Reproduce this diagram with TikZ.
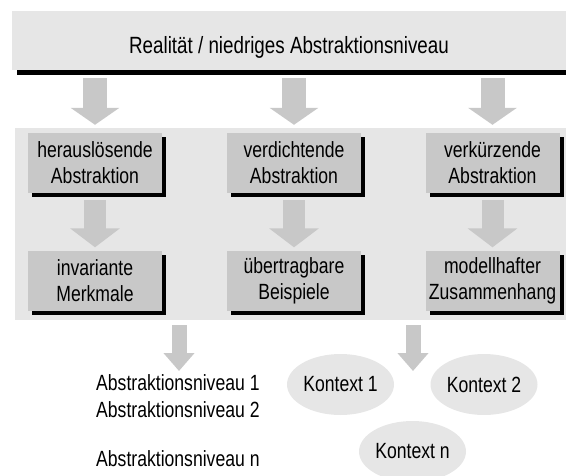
\documentclass[tikz,border=0pt]{standalone}
\usepackage{fontspec}
\setmainfont[FakeStretch=0.8]{Liberation Sans}
\usepackage{tikz}
\usetikzlibrary{shapes, arrows.meta, positioning, calc, shadows}

\definecolor{panelgray}{RGB}{230,230,230}
\definecolor{boxgray}{RGB}{200,200,200}
\newcommand{\lblfont}{\fontsize{22}{26}\selectfont}

\begin{document}
\begin{tikzpicture}[x=1pt, y=-1pt,
  box/.style={fill=boxgray, minimum width=134pt, minimum height=60pt, inner sep=0pt, align=center, font=\lblfont,
    drop shadow={shadow xshift=4pt, shadow yshift=-4pt, fill=black, opacity=1}},
  ctx/.style={ellipse, fill=panelgray, minimum width=107pt, minimum height=61pt, inner sep=0pt, font=\lblfont},
  level/.style={anchor=west, inner sep=0pt, font=\lblfont},
  bigarrow/.style={draw=boxgray, line width=24pt, -{Triangle[width=48pt, length=17pt]}},
  midarrow/.style={draw=boxgray, line width=22pt, -{Triangle[width=49pt, length=19pt]}},
  smallarrow/.style={draw=boxgray, line width=15pt, -{Triangle[width=30pt, length=18pt]}}
]
  \useasboundingbox (0,0) rectangle (566,475);
  \clip (0,0) rectangle (566,475);

  % top level and panel
  \node[fill=panelgray, minimum width=554pt, minimum height=59pt, inner sep=0pt, text height=25.8pt, text depth=0pt,
    font=\fontsize{23.5}{28}\selectfont,
    drop shadow={shadow xshift=5pt, shadow yshift=-5pt, fill=black, opacity=1}] (real) at (289, 40.5) {Realität / niedriges Abstraktionsniveau};
  \node[fill=panelgray, minimum width=560pt, minimum height=192pt, inner sep=0pt] (panel) at (295, 224) {};

  \node[box] (heraus) at (95, 163) {herauslösende\\Abstraktion};
  \node[box] (verdicht) at (294, 163) {verdichtende\\Abstraktion};
  \node[box] (verkurz) at (492.5, 163) {verkürzende\\Abstraktion};
  \node[box] (invar) at (95, 280.5) {invariante\\Merkmale};
  \node[box] (uebertr) at (294, 280.5) {übertragbare\\Beispiele};
  \node[box] (modell) at (492.5, 280.5) {modellhafter\\Zusammenhang};

  % arrows down
  \foreach \n in {heraus, verdicht, verkurz}
    \draw[bigarrow, shorten <=8pt, shorten >=8pt] (\n.north |- real.south) -- (\n.north);
  \draw[midarrow, shorten <=7pt, shorten >=3pt] (heraus) -- (invar);
  \draw[midarrow, shorten <=7pt, shorten >=3pt] (verdicht) -- (uebertr);
  \draw[midarrow, shorten <=7pt, shorten >=3pt] (verkurz) -- (modell);

  % below the panel
  \coordinate (lvltip) at (179, 371);
  \coordinate (ctxtip) at (413, 371);
  \draw[smallarrow, shorten <=5pt] (panel.south -| lvltip) -- (lvltip);
  \draw[smallarrow, shorten <=5pt] (panel.south -| ctxtip) -- (ctxtip);

  \node[level] (lvl1) at (96, 383) {Abstraktionsniveau 1};
  \node[level] (lvl2) at (96, 410) {Abstraktionsniveau 2};
  \node[level] (lvln) at (96, 459) {Abstraktionsniveau n};

  \node[ctx] (ctx1) at (340.5, 384.5) {Kontext 1};
  \node[ctx] (ctx2) at (484, 384.5) {Kontext 2};
  \node[ctx] (ctxn) at (412.5, 451.5) {Kontext n};
\end{tikzpicture}
\end{document}
